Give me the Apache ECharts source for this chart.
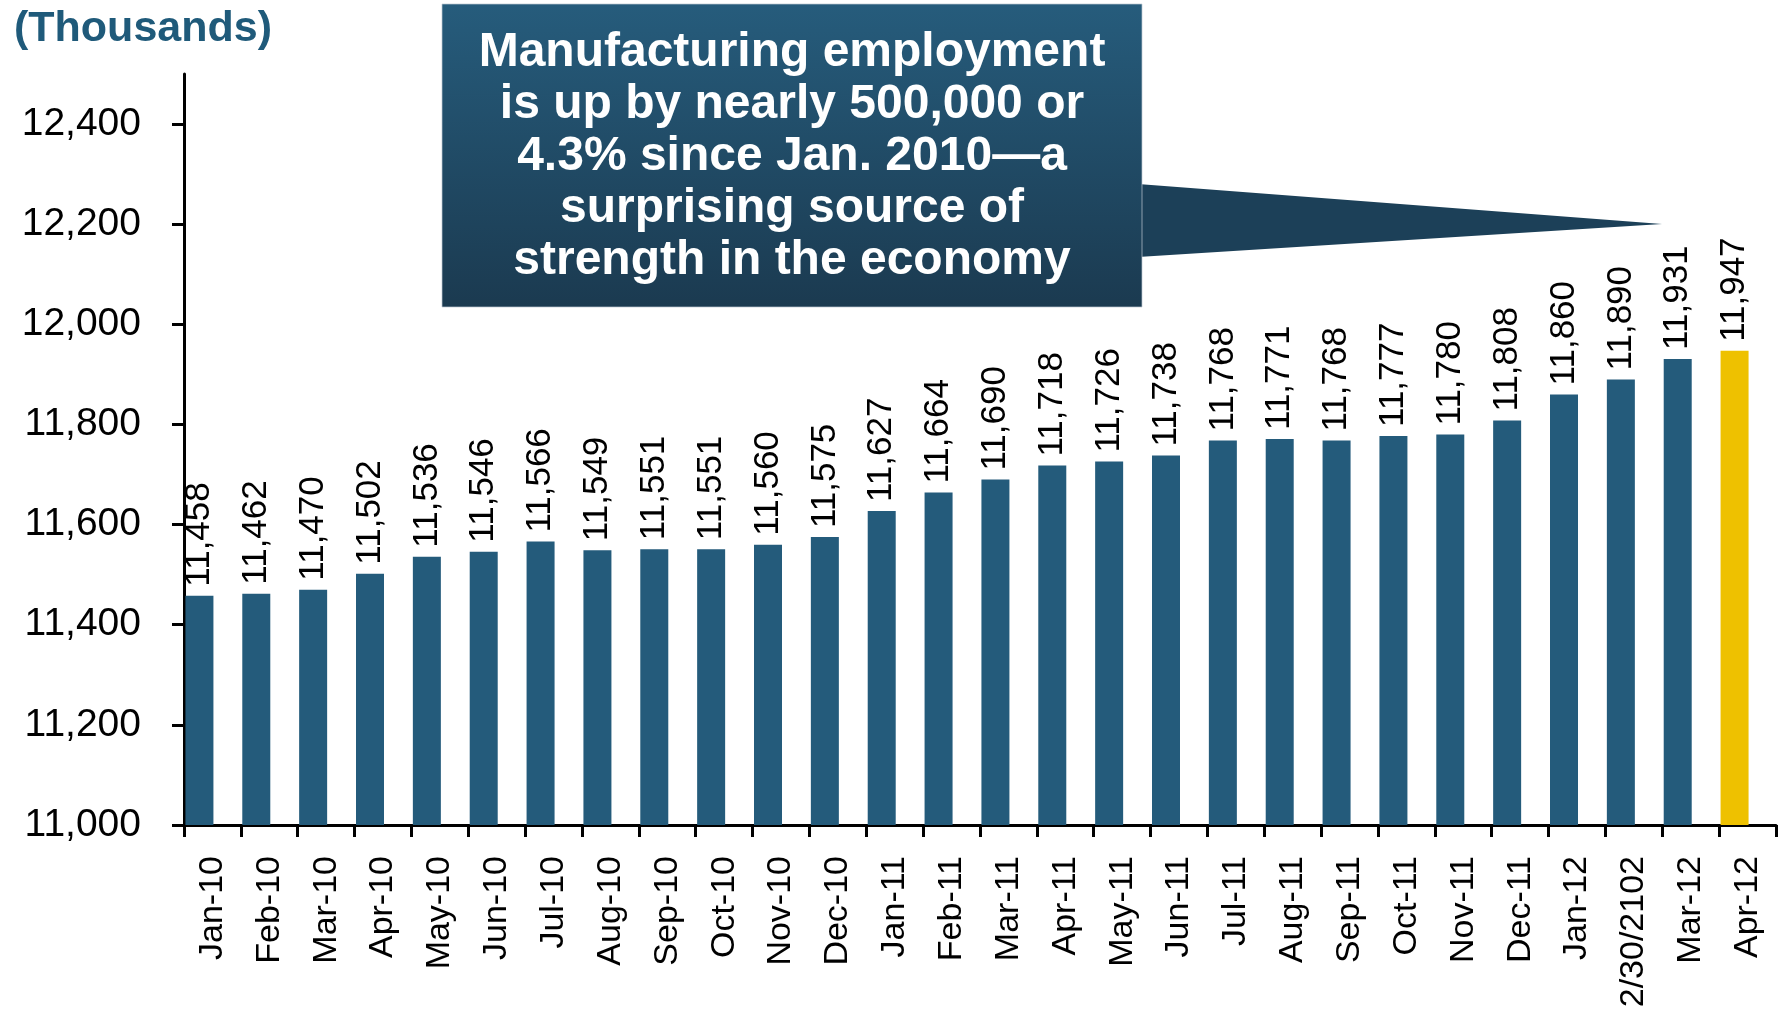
<!DOCTYPE html>
<html>
<head>
<meta charset="utf-8">
<script src="https://cdn.jsdelivr.net/npm/echarts@6/dist/echarts.min.js"></script>
<style>
  html, body { margin: 0; padding: 0; background: #ffffff; }
  #chart { width: 1779px; height: 1011px; }
</style>
</head>
<body>
<div id="chart"></div>
<script>
// Monthly manufacturing employment, thousands of jobs
const categories = [
  'Jan-10', 'Feb-10', 'Mar-10', 'Apr-10', 'May-10', 'Jun-10', 'Jul-10',
  'Aug-10', 'Sep-10', 'Oct-10', 'Nov-10', 'Dec-10',
  'Jan-11', 'Feb-11', 'Mar-11', 'Apr-11', 'May-11', 'Jun-11', 'Jul-11',
  'Aug-11', 'Sep-11', 'Oct-11', 'Nov-11', 'Dec-11',
  'Jan-12', '2/30/2102', 'Mar-12', 'Apr-12'
];
const employment = [
  11458, 11462, 11470, 11502, 11536, 11546, 11566,
  11549, 11551, 11551, 11560, 11575,
  11627, 11664, 11690, 11718, 11726, 11738, 11768,
  11771, 11768, 11777, 11780, 11808,
  11860, 11890, 11931, 11947
];
const yTicks = [11000, 11200, 11400, 11600, 11800, 12000, 12200, 12400];
const latestIndex = 27;
const calloutLines = [
  'Manufacturing employment',
  'is up by nearly 500,000 or',
  '4.3% since Jan. 2010\u2014a',
  'surprising source of',
  'strength in the economy'
];

const BAR = '#245b7b';
const LATEST = '#eec100';
const FONT = '"Liberation Sans", Arial, Helvetica, sans-serif';

const fmt = v => String(v).replace(/\B(?=(\d{3})+(?!\d))/g, ',');

const barData = employment.map((v, i) => ({
  value: v,
  itemStyle: { color: i === latestIndex ? LATEST : BAR }
}));

const chart = echarts.init(document.getElementById('chart'), null, { renderer: 'canvas' });

chart.setOption({
  animation: false,
  backgroundColor: '#ffffff',
  grid: {
    left: 184, right: 3, top: 74, bottom: 186,
    containLabel: false,
    outerBoundsMode: 'none'
  },
  xAxis: {
    type: 'category',
    data: categories,
    boundaryGap: true,
    axisLine: { show: true, lineStyle: { color: '#000', width: 3 } },
    axisTick: { show: true, length: 12, interval: 0, lineStyle: { color: '#000', width: 3 } },
    axisLabel: {
      interval: 0, rotate: 90, margin: 31,
      fontFamily: FONT, fontSize: 34, color: '#000'
    },
    splitLine: { show: false }
  },
  yAxis: {
    type: 'value',
    min: 11000,
    max: 12500,
    axisLine: { show: true, lineStyle: { color: '#000', width: 3 } },
    axisTick: { show: true, length: 12, customValues: yTicks, lineStyle: { color: '#000', width: 3 } },
    axisLabel: {
      customValues: yTicks, margin: 43,
      fontFamily: FONT, fontSize: 39, color: '#000',
      formatter: v => fmt(v)
    },
    splitLine: { show: false }
  },
  series: [
    {
      type: 'bar',
      data: barData,
      barWidth: 28,
      barGap: '0%',
      label: {
        show: true,
        position: 'top',
        distance: 9,
        rotate: 90,
        align: 'left',
        verticalAlign: 'middle',
        fontFamily: FONT,
        fontSize: 35,
        color: '#000',
        formatter: p => fmt(p.value)
      }
    },
    {
      // empty companion series keeps each bar in the left half of its month
      type: 'bar',
      data: employment.map(() => '-'),
      barWidth: 26,
      silent: true
    }
  ],
  graphic: [
    {
      type: 'text',
      left: 14,
      top: 8,
      style: {
        text: '(Thousands)',
        font: 'bold 43px ' + FONT,
        fill: '#1f5a7a'
      }
    },
    {
      type: 'polygon',
      shape: { points: [[1138, 184], [1662, 224], [1138, 257]] },
      style: { fill: '#1c4058' }
    },
    {
      type: 'rect',
      shape: { x: 442, y: 4, width: 700, height: 303 },
      style: {
        fill: new echarts.graphic.LinearGradient(0, 0, 0, 1, [
          { offset: 0, color: '#265c7c' },
          { offset: 1, color: '#1b3a50' }
        ]),
        stroke: 'rgba(190,200,210,0.7)',
        lineWidth: 1
      }
    },
    {
      type: 'text',
      x: 792,
      y: 157,
      style: {
        text: calloutLines.join('\n'),
        font: 'bold 48px ' + FONT,
        fill: '#ffffff',
        align: 'center',
        verticalAlign: 'middle',
        lineHeight: 52
      }
    }
  ]
});
</script>
</body>
</html>
